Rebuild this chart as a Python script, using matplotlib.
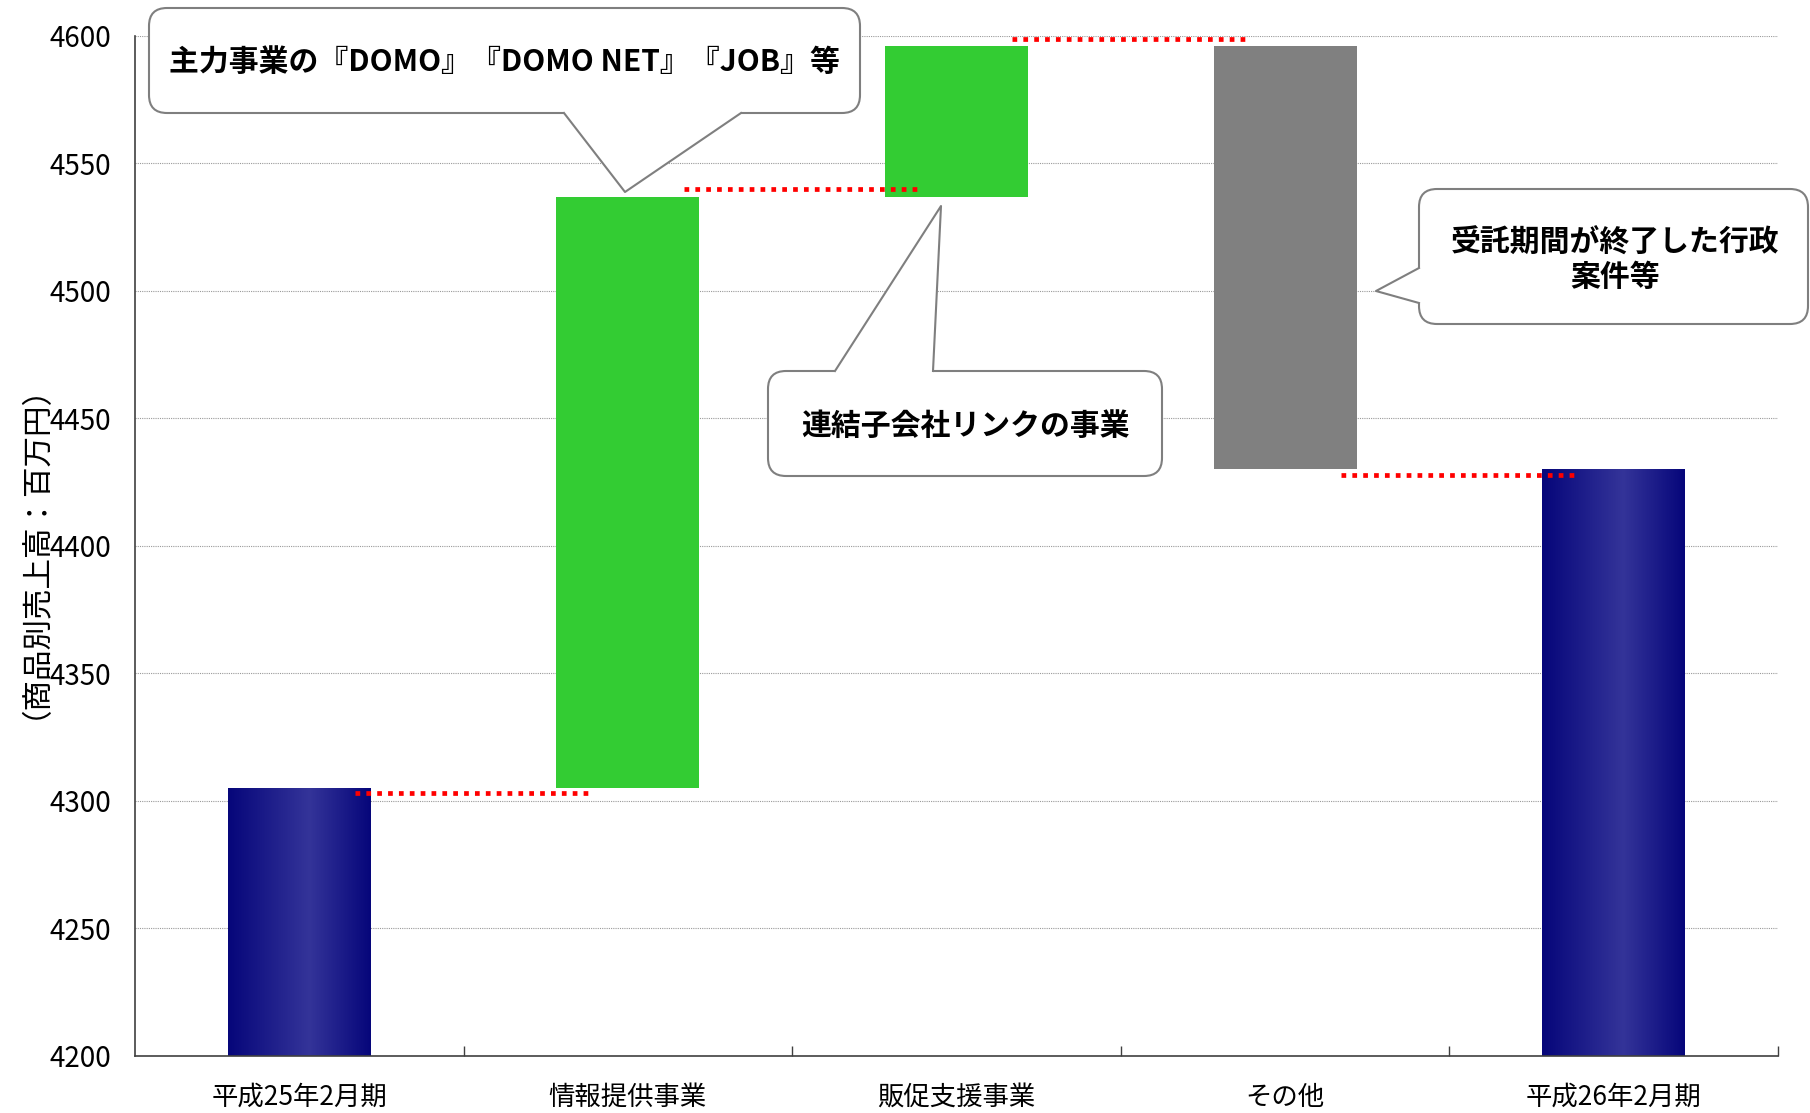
import numpy as np
import matplotlib
matplotlib.use('Agg')
import matplotlib.pyplot as plt
from matplotlib import transforms
from matplotlib.patches import FancyBboxPatch, Polygon
from matplotlib.lines import Line2D

plt.rcParams['font.family'] = ['Noto Sans CJK JP', 'DejaVu Sans']

# data (百万円)
categories = ['平成25年2月期', '情報提供事業', '販促支援事業', 'その他', '平成26年2月期']
start_total = 4305
changes = [232, 59, -166]
end_total = 4430
connector_levels = [4303, 4540, 4599, 4428]
y_ticks = [4200, 4250, 4300, 4350, 4400, 4450, 4500, 4550, 4600]
ylabel = '（商品別売上高：百万円）'
note_main = '主力事業の『DOMO』『DOMO NET』『JOB』等'
note_link = '連結子会社リンクの事業'
note_other = '受託期間が終了した行政\n案件等'

W, H = 1810, 1113
fig = plt.figure(figsize=(W / 100, H / 100), dpi=100)
ax = fig.add_axes([135 / W, (H - 1056) / H, (1778 - 135) / W, (1056 - 36) / H])

# waterfall bottoms / heights
bottoms = [y_ticks[0]]
heights = [start_total - y_ticks[0]]
kinds = ['total']
running = start_total
for c in changes:
    if c >= 0:
        bottoms.append(running)
        heights.append(c)
        kinds.append('up')
    else:
        bottoms.append(running + c)
        heights.append(-c)
        kinds.append('down')
    running += c
bottoms.append(y_ticks[0])
heights.append(end_total - y_ticks[0])
kinds.append('total')

x = np.arange(len(categories))
bw = 0.435
fill = {'total': 'none', 'up': '#33CC33', 'down': '#808080'}
ax.bar(x, heights, bottom=bottoms, width=bw, color=[fill[k] for k in kinds],
       edgecolor='none', zorder=2)

# navy gradient for the two totals
t = np.linspace(0, 1, 256)
peak = 0.57
w = np.where(t < peak, t / peak, (1 - t) / (1 - peak))
dark = np.array([6, 6, 122]) / 255
light = np.array([52, 52, 153]) / 255
grad = (dark + (light - dark) * w[:, None])[None, :, :]
for i, k in enumerate(kinds):
    if k == 'total':
        ax.imshow(grad, extent=[x[i] - bw / 2, x[i] + bw / 2, bottoms[i], bottoms[i] + heights[i]],
                  aspect='auto', interpolation='bilinear', zorder=2)

# red dotted connectors
for i, lvl in enumerate(connector_levels):
    ax.plot([x[i] + 0.17, x[i] + 0.88], [lvl, lvl], color='red', lw=3.4,
            linestyle=(0, (1, 1.3)), zorder=3)

ax.set_xlim(-0.5, len(categories) - 0.5)
ax.set_ylim(y_ticks[0], y_ticks[-1])
ax.set_yticks(y_ticks)
ax.set_xticks(x)
ax.set_xticklabels(categories, fontsize=19)
ax.set_xticks(np.arange(0.5, len(categories), 1), minor=True)
ax.tick_params(axis='x', which='major', length=0, pad=20)
ax.tick_params(axis='x', which='minor', direction='in', length=7, width=1, color='#404040')
ax.tick_params(axis='y', length=0, pad=17, labelsize=20)
ax.yaxis.grid(True, linestyle=(0, (1, 1)), color='#9a9a9a', linewidth=0.8)
ax.set_axisbelow(True)
for s in ['top', 'right']:
    ax.spines[s].set_visible(False)
for s in ['left', 'bottom']:
    ax.spines[s].set_color('#404040')
    ax.spines[s].set_linewidth(1.2)

fig.text(19 / W, 1 - 536 / H, ylabel, rotation=90, ha='center', va='center', fontsize=22)

# callouts, drawn in image pixel coords (origin top-left)
pix = transforms.Affine2D().scale(1, -1).translate(0, H)


def callout(box, base1, tip, base2, inward, text, tx, ty):
    x0, y0, x1, y1 = box
    fig.add_artist(FancyBboxPatch((x0, y0), x1 - x0, y1 - y0,
                                  boxstyle='round,pad=0,rounding_size=18',
                                  facecolor='white', edgecolor='#7f7f7f', lw=1.5,
                                  transform=pix, zorder=10))
    dx, dy = inward
    poly = [base1, tip, base2, (base2[0] + dx, base2[1] + dy), (base1[0] + dx, base1[1] + dy)]
    fig.add_artist(Polygon(poly, closed=True, facecolor='white', edgecolor='none',
                           transform=pix, zorder=11))
    fig.add_artist(Line2D([base1[0], tip[0], base2[0]], [base1[1], tip[1], base2[1]],
                          color='#7f7f7f', lw=1.5, transform=pix, zorder=12))
    fig.text(tx / W, 1 - ty / H, text, ha='center', va='center', fontsize=21.5,
             fontweight='bold', linespacing=1.15, zorder=13)


callout((149, 8, 860, 113), (564, 113), (625, 192), (741, 113), (0, -4), note_main, 504, 62)
callout((768, 371, 1162, 476), (835, 371), (941, 206), (933, 371), (0, 4), note_link, 966, 426)
callout((1419, 189, 1808, 324), (1419, 268), (1376, 291), (1419, 303), (4, 0), note_other, 1615, 260)

fig.savefig('out.png', dpi=100)
